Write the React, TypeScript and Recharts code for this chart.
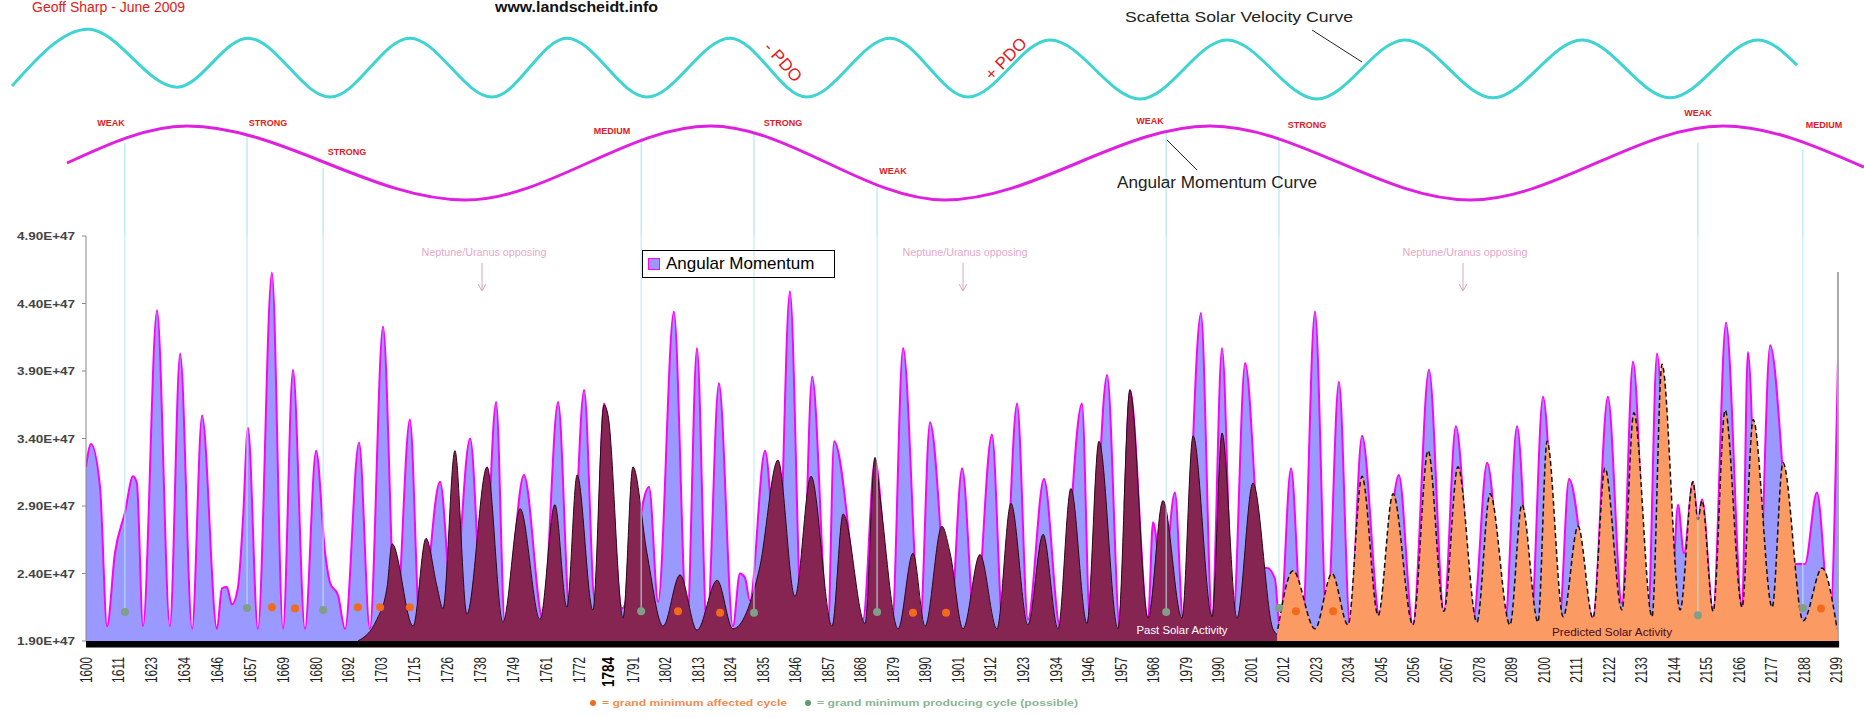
import {
  ComposedChart, LineChart, Line, Area, Scatter, XAxis, YAxis,
  ReferenceLine, ReferenceArea, Legend
} from 'recharts';

const W = 1864;
const H = 717;
const FONT = '"Liberation Sans", Arial, sans-serif';

// angular momentum (units of 1E+47), [year, value]
const momentumPoints: [number, number][] = [
  [1600.0, 3.19], [1601.7, 3.36], [1604.8, 3.04], [1607.2, 2.01], [1609.9, 2.55], [1613.3, 2.85],
  [1616.1, 3.12], [1617.4, 3.07], [1619.5, 2.01], [1624.3, 4.35], [1628.7, 2.01], [1632.2, 4.03],
  [1636.3, 1.99], [1639.7, 3.57], [1644.8, 1.99], [1646.5, 2.29], [1648.2, 2.30], [1649.9, 2.17],
  [1652.0, 2.30], [1653.7, 2.80], [1655.4, 3.48], [1658.8, 1.99], [1663.6, 4.63], [1667.4, 1.99],
  [1670.8, 3.91], [1674.9, 1.99], [1678.7, 3.31], [1681.8, 2.55], [1683.5, 2.33], [1686.2, 2.24],
  [1688.6, 1.99], [1693.4, 3.37], [1697.1, 1.99], [1701.6, 4.23], [1706.0, 2.00], [1710.8, 3.54],
  [1714.3, 1.97], [1721.1, 3.08], [1725.5, 2.10], [1731.4, 3.40], [1735.8, 2.05], [1740.3, 3.67],
  [1743.3, 2.03], [1749.8, 3.13], [1756.3, 2.06], [1761.5, 3.67], [1765.6, 2.06], [1770.4, 3.76],
  [1774.1, 2.18], [1777.2, 3.66], [1783.4, 2.14], [1792.6, 3.04], [1795.7, 2.19], [1801.1, 4.34],
  [1805.6, 2.01], [1809.0, 4.07], [1812.4, 1.99], [1816.5, 3.81], [1821.3, 2.01], [1823.7, 2.40],
  [1825.4, 2.37], [1827.1, 2.20], [1832.3, 3.31], [1836.7, 2.30], [1840.8, 4.49], [1844.9, 2.01],
  [1848.4, 3.86], [1853.8, 1.99], [1855.9, 3.38], [1865.8, 2.06], [1869.9, 3.24], [1875.7, 2.01],
  [1879.5, 4.07], [1885.3, 2.01], [1888.7, 3.52], [1895.6, 2.01], [1899.7, 3.18], [1904.1, 1.99],
  [1909.9, 3.43], [1913.7, 1.99], [1918.5, 3.66], [1922.2, 2.06], [1927.7, 3.10], [1933.2, 2.01],
  [1940.7, 3.66], [1943.4, 2.06], [1949.3, 3.87], [1953.7, 1.99], [1957.1, 3.76], [1963.3, 2.06],
  [1965.0, 2.78], [1968.4, 2.30], [1972.5, 3.00], [1975.3, 2.06], [1981.4, 4.33], [1985.2, 2.08],
  [1988.6, 4.07], [1992.4, 2.06], [1996.5, 3.96], [2002.3, 2.44], [2004.0, 2.44], [2006.7, 2.36],
  [2008.4, 1.99], [2012.2, 3.18], [2016.0, 1.99], [2020.4, 4.34], [2024.5, 2.01], [2028.6, 3.82],
  [2032.4, 2.01], [2036.5, 3.42], [2042.6, 2.07], [2049.1, 3.13], [2053.9, 2.02], [2059.4, 3.91],
  [2064.5, 2.12], [2068.6, 3.49], [2074.5, 2.06], [2079.3, 3.22], [2085.4, 2.03], [2089.5, 3.49],
  [2094.3, 2.04], [2098.4, 3.71], [2104.0, 2.06], [2107.3, 3.10], [2115.5, 2.07], [2120.6, 3.71],
  [2125.4, 2.18], [2129.2, 3.97], [2134.3, 2.06], [2137.4, 4.03], [2142.2, 2.15], [2144.6, 2.91],
  [2146.6, 2.55], [2149.7, 3.08], [2151.4, 2.80], [2152.8, 2.95], [2156.6, 2.12], [2161.0, 4.26],
  [2166.5, 2.14], [2168.5, 4.04], [2172.3, 2.25], [2176.1, 4.09], [2183.9, 2.47], [2188.0, 2.47],
  [2192.1, 3.00], [2196.6, 2.06], [2199.3, 3.97],
];

// past solar activity
const pastActivity: [number, number][] = [
  [1693.0, 1.90], [1699.5, 2.06], [1703.0, 2.30], [1704.7, 2.62], [1711.9, 2.01], [1716.3, 2.66],
  [1720.1, 2.30], [1722.1, 2.14], [1726.2, 3.31], [1730.3, 2.10], [1737.2, 3.19], [1742.6, 2.04],
  [1748.5, 2.88], [1755.3, 2.06], [1760.4, 2.91], [1764.5, 2.15], [1768.0, 3.13], [1773.4, 2.13],
  [1777.2, 3.65], [1778.6, 3.57], [1783.7, 2.07], [1787.1, 3.19], [1791.9, 2.55], [1797.4, 2.01],
  [1803.2, 2.39], [1809.0, 1.98], [1815.9, 2.35], [1821.3, 1.99], [1830.5, 2.45], [1836.7, 3.24],
  [1842.5, 2.23], [1848.0, 3.12], [1855.2, 2.01], [1859.0, 2.84], [1866.5, 2.03], [1869.9, 3.26],
  [1871.6, 2.97], [1877.8, 1.99], [1882.9, 2.55], [1887.0, 2.01], [1892.8, 2.75], [1895.6, 2.55],
  [1900.0, 1.99], [1905.8, 2.54], [1911.6, 1.99], [1916.4, 2.92], [1922.2, 2.02], [1927.4, 2.69],
  [1932.5, 1.99], [1936.9, 3.03], [1942.4, 2.03], [1946.5, 3.38], [1953.0, 1.99], [1957.1, 3.76],
  [1963.3, 2.07], [1968.4, 2.94], [1974.9, 2.07], [1978.7, 3.42], [1985.2, 2.08], [1988.6, 3.44],
  [1993.7, 2.07], [1999.2, 3.07], [2006.0, 1.99], [2007.4, 1.95],
];

// predicted solar activity
const predictedActivity: [number, number][] = [
  [2007.7, 1.99], [2012.9, 2.42], [2020.4, 1.99], [2026.2, 2.40], [2031.7, 2.02], [2036.5, 3.12],
  [2042.0, 2.09], [2047.1, 2.99], [2053.9, 2.02], [2059.1, 3.31], [2064.5, 2.12], [2069.3, 3.19],
  [2075.8, 2.04], [2080.3, 2.99], [2087.1, 2.02], [2091.2, 2.91], [2096.7, 2.04], [2099.8, 3.38],
  [2105.3, 2.08], [2110.4, 2.75], [2115.5, 2.07], [2119.6, 3.18], [2125.4, 2.13], [2129.5, 3.59],
  [2135.7, 2.08], [2139.1, 3.95], [2145.3, 2.13], [2149.7, 3.08], [2151.4, 2.80], [2152.8, 2.94],
  [2156.6, 2.12], [2160.7, 3.61], [2166.5, 2.15], [2170.3, 3.54], [2176.8, 2.15], [2180.5, 3.22],
  [2187.4, 2.05], [2193.9, 2.44], [2199.0, 1.99],
];

// grand minimum affected cycles (orange dots)
const affectedCycles: [number, number][] = [
  [1663.6, 2.15], [1671.5, 2.14], [1693.0, 2.15], [1700.6, 2.15], [1710.8, 2.15], [1802.5, 2.12],
  [1816.9, 2.11], [1882.9, 2.11], [1894.2, 2.11], [2013.9, 2.12], [2026.6, 2.12], [2193.5, 2.14],
];

// grand minimum producing cycles: year, level on the momentum curve, dot level
const producingCycles: [number, number, number][] = [
  [1613.3, 0.54, 2.115], [1655.1, 0.81, 2.145], [1681.1, -0.135, 2.13], [1789.9, 0.68, 2.12],
  [1828.5, 0.81, 2.11], [1870.6, -0.68, 2.115], [1969.5, 0.81, 2.115], [2008.1, 0.70, 2.145],
  [2151.4, 0.54, 2.09], [2187.3, 0.35, 2.145],
];

// schematic curves on top (relative levels)
const velocityCurve: [number, number][] = [
  [1574.7, -0.62], [1600.7, 1.34], [1631.1, -0.66], [1655.4, 1.03], [1683.5, -1.0], [1710.8, 1.03],
  [1738.9, -1.0], [1764.5, 1.03], [1791.9, -1.0], [1820.3, 1.03], [1846.6, -1.0], [1875.0, 1.03],
  [1901.7, -1.0], [1929.8, 0.97], [1960.6, -1.07], [1990.3, 0.97], [2021.1, -1.07], [2051.2, 0.97],
  [2081.3, -1.03], [2111.8, 0.97], [2141.9, -1.03], [2172.0, 0.97], [2185.3, 0.10],
];
const momentumCurve: [number, number][] = [
  [1593.5, 0], [1634.6, 1], [1729.7, -1], [1813.5, 1], [1893.8, -1], [1984.5, 1],
  [2073.4, -1], [2160.0, 1], [2208.2, -0.11],
];

const earlyTickLabels = ['1600', '1611', '1623', '1634', '1646', '1657', '1669', '1680', '1692', '1703',
  '1715', '1726', '1738', '1749', '1761', '1772'];
const lateTickLabels = ['1791', '1802', '1813', '1824', '1835', '1846', '1857', '1868', '1879', '1890',
  '1901', '1912', '1923', '1934', '1946', '1957', '1968', '1979', '1990', '2001', '2012', '2023', '2034',
  '2045', '2056', '2067', '2078', '2089', '2100', '2111', '2122', '2133', '2144', '2155', '2166', '2177',
  '2188', '2199'];
const boldTickLabel = '1784';
const yTicks = [1.9, 2.4, 2.9, 3.4, 3.9, 4.4, 4.9];

// category style axis: labels are evenly spread in two runs
const tickText = new Map<number, string>();
earlyTickLabels.forEach((t, i) => tickText.set(1600 + i * 11.243, t));
const boldTickAt = 1778.9;
tickText.set(boldTickAt, boldTickLabel);
lateTickLabels.forEach((t, i) => tickText.set(1787.12 + i * 11.131, t));
const xTicks = [...tickText.keys()].sort((a, b) => a - b);

const rowMap = new Map<number, any>();
const put = (pts: [number, number][], key: string) =>
  pts.forEach(([x, v]) => {
    const r = rowMap.get(x) ?? { x };
    r[key] = v;
    rowMap.set(x, r);
  });
put(momentumPoints, 'am');
put(pastActivity, 'past');
put(predictedActivity, 'pred');
const rows = [...rowMap.values()].sort((a, b) => a.x - b.x);

const toXY = (pts: [number, number][]) => pts.map(([x, y]) => ({ x, y }));

function XTick(props: any) {
  const { x, y, payload } = props;
  const label = tickText.get(payload.value) ?? '';
  const bold = label === boldTickLabel;
  return (
    <text
      transform={`translate(${x},${y + 16}) rotate(-90)`}
      textAnchor="end"
      dominantBaseline="central"
      fontSize={17}
      fontWeight={bold ? 700 : 400}
      fill={bold ? '#000' : '#222'}
      textLength={bold ? 30 : 26}
      lengthAdjust="spacingAndGlyphs"
      fontFamily={FONT}
    >
      {label}
    </text>
  );
}

function YTick(props: any) {
  const { x, y, payload } = props;
  return (
    <text x={x} y={y} textAnchor="end" dominantBaseline="central" fontSize={11} fontWeight={700}
      fill="#444" textLength={58} lengthAdjust="spacingAndGlyphs" fontFamily={FONT}>
      {payload.value.toFixed(2)}E+47
    </text>
  );
}

const dot = (fill: string) => (p: any) => <circle cx={p.cx} cy={p.cy} r={4} fill={fill} />;

export default function App() {
  return (
    <div style={{ position: 'absolute', left: 0, top: 0, width: W, height: H, background: '#fff', overflow: 'hidden', fontFamily: FONT }}>
      <div style={{ position: 'absolute', left: 0, top: 0 }}>
        <LineChart width={W} height={236} margin={{ top: 0, right: 0, bottom: 0, left: 0 }}>
          <XAxis type="number" dataKey="x" domain={[1570.58, 2208.22]} allowDataOverflow hide />
          <YAxis yAxisId="cy" type="number" domain={[-5.793, 2.345]} allowDataOverflow hide />
          <YAxis yAxisId="mg" type="number" domain={[-1.973, 4.405]} allowDataOverflow hide />
          {producingCycles.map(([yr, top]) => (
            <ReferenceLine key={yr} yAxisId="mg" segment={[{ x: yr, y: top }, { x: yr, y: -1.973 }]}
              stroke="#9fe3ea" strokeWidth={1} />
          ))}
          <Line yAxisId="cy" data={toXY(velocityCurve)} dataKey="y" type="monotone" stroke="#3fd4d2"
            strokeWidth={3} dot={false} isAnimationActive={false} />
          <Line yAxisId="mg" data={toXY(momentumCurve)} dataKey="y" type="monotone" stroke="#e020e0"
            strokeWidth={3} dot={false} isAnimationActive={false} />
        </LineChart>
      </div>

      <div style={{ position: 'absolute', left: 0, top: 0 }}>
        <ComposedChart width={W} height={H} data={rows} margin={{ top: 236, right: 24, bottom: 36, left: 0 }}>
          <XAxis type="number" dataKey="x" domain={[1600, 2200]} allowDataOverflow ticks={xTicks} interval={0}
            tickSize={0} tickMargin={0} axisLine={false} tickLine={false} height={40} tick={<XTick />} />
          <YAxis type="number" domain={[1.9, 4.9]} ticks={yTicks} allowDataOverflow width={86} tickSize={4}
            tickMargin={7} axisLine={{ stroke: '#888' }} tickLine={{ stroke: '#888' }} tick={<YTick />} />
          <Area dataKey="am" type="monotone" connectNulls baseValue={1.9} fill="#9999ff" fillOpacity={1}
            stroke="#ff00ff" strokeWidth={2} dot={false} activeDot={false} isAnimationActive={false} />
          <Area dataKey="past" type="monotone" connectNulls baseValue={1.9} fill="#862552" fillOpacity={1}
            stroke="#2b0618" strokeWidth={1} dot={false} activeDot={false} isAnimationActive={false} />
          <Area dataKey="pred" type="monotone" connectNulls baseValue={1.9} fill="#fb9a63" fillOpacity={1}
            stroke="#111" strokeWidth={1.5} strokeDasharray="5 3" dot={false} activeDot={false} isAnimationActive={false} />
          <ReferenceArea x1={1600} x2={2199.7} y1={1.851} y2={1.9} fill="#000" fillOpacity={1} stroke="none" ifOverflow="visible" />
          {producingCycles.map(([yr, , base]) => (
            <ReferenceLine key={yr} segment={[{ x: yr, y: 4.9 }, { x: yr, y: base }]}
              stroke="#b9e9ee" strokeWidth={1} />
          ))}
          <ReferenceLine segment={[{ x: 2199.3, y: 4.633 }, { x: 2199.3, y: 1.9 }]} stroke="#a8a8a8" strokeWidth={2} />
          <Scatter data={toXY(affectedCycles)} dataKey="y" shape={dot('#f26b1d')} isAnimationActive={false} />
          <Scatter data={producingCycles.map(([x, , y]) => ({ x, y }))} dataKey="y" shape={dot('#7f9f86')}
            isAnimationActive={false} />
          <Legend layout="horizontal" verticalAlign="middle" align="center"
            wrapperStyle={{ left: 642, top: 250, width: 193, height: 28 }}
            content={() => (
              <div style={{ boxSizing: 'border-box', width: 193, height: 28, border: '1.5px solid #000', display: 'flex', alignItems: 'center', paddingLeft: 5 }}>
                <span style={{ display: 'inline-block', boxSizing: 'border-box', width: 12, height: 12, background: '#9999ff', border: '1.5px solid #ff00ff', marginRight: 6 }} />
                <span style={{ fontSize: 17, color: '#000', whiteSpace: 'nowrap' }}>Angular Momentum</span>
              </div>
            )} />
        </ComposedChart>
      </div>

      <svg width={W} height={H} style={{ position: 'absolute', left: 0, top: 0, pointerEvents: 'none' }} fontFamily={FONT}>
        <text x={32} y={12} fontSize={14} fill="#e02020">Geoff Sharp - June 2009</text>
        <text x={495} y={12} fontSize={14} fontWeight={700} fill="#111" textLength={163} lengthAdjust="spacingAndGlyphs">www.landscheidt.info</text>

        <text x={1125} y={22} fontSize={15.5} fill="#222" textLength={228} lengthAdjust="spacingAndGlyphs">Scafetta Solar Velocity Curve</text>
        <line x1={1312} y1={30} x2={1362} y2={62} stroke="#222" strokeWidth={1} />
        <text x={1117} y={188} fontSize={16} fill="#222" textLength={200} lengthAdjust="spacingAndGlyphs">Angular Momentum Curve</text>
        <line x1={1197} y1={170} x2={1167} y2={140} stroke="#222" strokeWidth={1} />

        <text transform="translate(783,62) rotate(48)" textAnchor="middle" dominantBaseline="central" fontSize={17} fill="#e02020">- PDO</text>
        <text transform="translate(1006,59) rotate(-46)" textAnchor="middle" dominantBaseline="central" fontSize={17} fill="#e02020">+ PDO</text>

        <g fontSize={9} fontWeight={700} fill="#e02020" textAnchor="middle">
          <text x={111} y={126}>WEAK</text>
          <text x={268} y={126}>STRONG</text>
          <text x={347} y={155}>STRONG</text>
          <text x={612} y={134}>MEDIUM</text>
          <text x={783} y={126}>STRONG</text>
          <text x={893} y={174}>WEAK</text>
          <text x={1150} y={124}>WEAK</text>
          <text x={1307} y={128}>STRONG</text>
          <text x={1698} y={116}>WEAK</text>
          <text x={1824} y={128}>MEDIUM</text>
        </g>

        {[484, 965, 1465].map((cx) => (
          <g key={cx}>
            <text x={cx} y={256} fontSize={10.5} fill="#e6a8c8" textAnchor="middle" textLength={125} lengthAdjust="spacingAndGlyphs">Neptune/Uranus opposing</text>
            <line x1={cx - 2} y1={263} x2={cx - 2} y2={290} stroke="#d6a6be" strokeWidth={1} />
            <polyline points={`${cx - 6},284 ${cx - 2},291 ${cx + 2},284`} fill="none" stroke="#d6a6be" strokeWidth={1} />
          </g>
        ))}

        <text x={1182} y={634} fontSize={10} fill="#fff" textAnchor="middle" textLength={91} lengthAdjust="spacingAndGlyphs">Past Solar Activity</text>
        <text x={1612} y={636} fontSize={10} fill="#4a0c1c" textAnchor="middle" textLength={120} lengthAdjust="spacingAndGlyphs">Predicted Solar Activity</text>

        <circle cx={593} cy={703} r={3} fill="#f26b1d" />
        <text x={602} y={706} fontSize={9} fontWeight={700} fill="#f08a50" textLength={185} lengthAdjust="spacingAndGlyphs">= grand minimum affected cycle</text>
        <circle cx={808} cy={703} r={3} fill="#5f9a6a" />
        <text x={817} y={706} fontSize={9} fontWeight={700} fill="#8ab592" textLength={261} lengthAdjust="spacingAndGlyphs">= grand minimum producing cycle (possible)</text>
      </svg>
    </div>
  );
}
